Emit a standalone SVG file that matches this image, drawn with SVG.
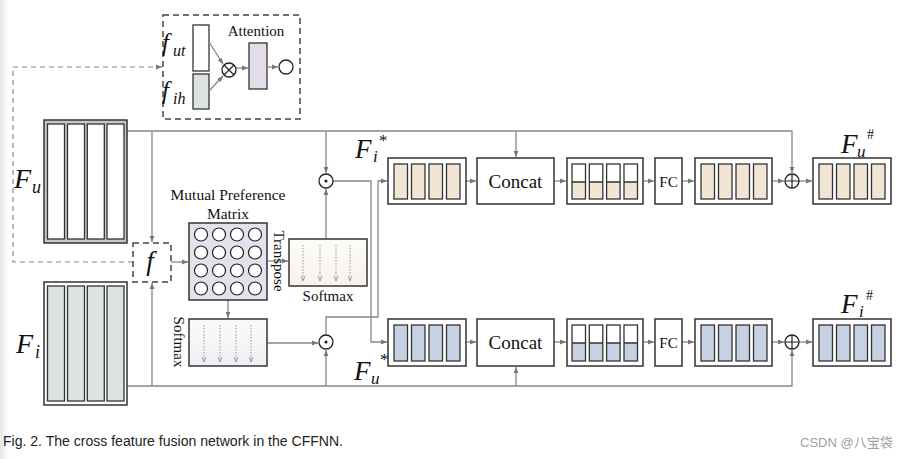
<svg xmlns="http://www.w3.org/2000/svg" width="915" height="459" viewBox="0 0 915 459">
<defs>
<linearGradient id="edge" x1="0" y1="0" x2="1" y2="0"><stop offset="0" stop-color="#e6e6e6"/><stop offset="1" stop-color="#ffffff"/></linearGradient>
<linearGradient id="smTop" x1="0" y1="0" x2="0" y2="1"><stop offset="0" stop-color="#fdfcfa"/><stop offset="1" stop-color="#f7f1e8"/></linearGradient>
<linearGradient id="smBot" x1="0" y1="0" x2="0" y2="1"><stop offset="0" stop-color="#fbfbfc"/><stop offset="1" stop-color="#eceff2"/></linearGradient>
<marker id="ah" viewBox="0 0 10 10" refX="10" refY="5" markerWidth="7" markerHeight="6" markerUnits="userSpaceOnUse" orient="auto"><path d="M0,1 L10,5 L0,9 z" fill="#777"/></marker>
<marker id="ahs" viewBox="0 0 10 10" refX="10" refY="5" markerWidth="5" markerHeight="5" markerUnits="userSpaceOnUse" orient="auto"><path d="M0,1 L10,5 L0,9" fill="none" stroke="#888" stroke-width="1.5"/></marker>
</defs>
<style>
.box{fill:#fff;stroke:#333;stroke-width:1.5}
.col{stroke:#333;stroke-width:1.3}
.beige{fill:#f3e5d3}
.blue{fill:#c6d1e3}
.white{fill:#fff}
.gray{fill:#dfe2e3}
.dash{fill:#fff;stroke:#444;stroke-width:1.5;stroke-dasharray:6,4}
.ln{fill:none;stroke:#888;stroke-width:1.3}
.lnd{fill:none;stroke:#888;stroke-width:1.2;stroke-dasharray:5,4}
.dot{fill:none;stroke:#999;stroke-width:1;stroke-dasharray:1.5,1.5}
.op{fill:#fff;stroke:#222;stroke-width:1.3}
.t{font-family:"Liberation Serif",serif;fill:#111}
.ti{font-family:"Liberation Serif",serif;font-style:italic;fill:#111}
.cap{font-family:"Liberation Sans",Arial,sans-serif;fill:#222}
</style>
<rect x="0" y="0" width="915" height="459" fill="#fff"/>
<rect x="0" y="0" width="9" height="459" fill="url(#edge)"/>

<g id="connectors">
<path class="lnd" d="M133,262 H13 V67 H162" marker-end="url(#ah)"/>
<path class="ln" d="M127,131 H792 V173" marker-end="url(#ah)"/>
<path class="ln" d="M152,131 V242" marker-end="url(#ah)"/>
<path class="ln" d="M326,131 V173" marker-end="url(#ah)"/>
<path class="ln" d="M516,131 V157" marker-end="url(#ah)"/>
<path class="ln" d="M127,386 H792 V350" marker-end="url(#ah)"/>
<path class="ln" d="M152,386 V283" marker-end="url(#ah)"/>
<path class="ln" d="M326,386 V350" marker-end="url(#ah)"/>
<path class="ln" d="M516,386 V367" marker-end="url(#ah)"/>
<path class="ln" d="M171,262 H188" marker-end="url(#ah)"/>
<path class="ln" d="M267,261 H288" marker-end="url(#ah)"/>
<path class="ln" d="M228,300 V318" marker-end="url(#ah)"/>
<path class="ln" d="M326,239 V189" marker-end="url(#ah)"/>
<path class="ln" d="M267,343 H318" marker-end="url(#ah)"/>
<path class="ln" d="M333,181 H371 V342 H387" marker-end="url(#ah)"/>
<path class="ln" d="M326,335 V317 H378 V181 H387" marker-end="url(#ah)"/>
<path class="ln" d="M466,181 H476" marker-end="url(#ah)"/>
<path class="ln" d="M554,181 H566" marker-end="url(#ah)"/>
<path class="ln" d="M643,181 H654" marker-end="url(#ah)"/>
<path class="ln" d="M682,181 H694" marker-end="url(#ah)"/>
<path class="ln" d="M772,181 H784" marker-end="url(#ah)"/>
<path class="ln" d="M799,181 H812" marker-end="url(#ah)"/>
<path class="ln" d="M466,342 H476" marker-end="url(#ah)"/>
<path class="ln" d="M554,342 H566" marker-end="url(#ah)"/>
<path class="ln" d="M643,342 H654" marker-end="url(#ah)"/>
<path class="ln" d="M682,342 H694" marker-end="url(#ah)"/>
<path class="ln" d="M772,342 H784" marker-end="url(#ah)"/>
<path class="ln" d="M799,342 H812" marker-end="url(#ah)"/>
</g>

<g id="attention">
<rect class="dash" x="163" y="15" width="137" height="104"/>
<rect x="193" y="25" width="16" height="46" fill="#fff" stroke="#333" stroke-width="1.3"/>
<rect x="193" y="74" width="16" height="35" fill="#dfe2e3" stroke="#333" stroke-width="1.3"/>
<rect x="249" y="43" width="18" height="46" fill="#e4dcea" stroke="#333" stroke-width="1.3"/>
<path class="ln" d="M209,42 L223,64" marker-end="url(#ah)"/>
<path class="ln" d="M209,91 L223,76" marker-end="url(#ah)"/>
<path class="ln" d="M236,68 H248" marker-end="url(#ah)"/>
<path class="ln" d="M267,67 H278" marker-end="url(#ah)"/>
<circle class="op" cx="229" cy="70" r="7"/>
<path d="M224,65 L234,75 M234,65 L224,75" stroke="#222" stroke-width="1.2"/>
<circle class="op" cx="286" cy="67" r="7"/>
<text class="t" x="256" y="36" font-size="15" text-anchor="middle">Attention</text>
<text class="ti" x="162" y="51" font-size="25">f</text>
<text class="ti" x="173" y="56" font-size="16">ut</text>
<text class="ti" x="162" y="99" font-size="25">f</text>
<text class="ti" x="173" y="104" font-size="16">ih</text>
</g>

<g id="Fu">
<rect x="44" y="120" width="83" height="123" fill="#c4c8c9" stroke="#333" stroke-width="1.5"/>
<rect class="col white" x="47.5" y="124" width="17" height="115"/>
<rect class="col white" x="67.5" y="124" width="17" height="115"/>
<rect class="col white" x="87.3" y="124" width="17" height="115"/>
<rect class="col white" x="107" y="124" width="17" height="115"/>
<text class="ti" x="14" y="188" font-size="28">F</text>
<text class="ti" x="32" y="193" font-size="18">u</text>
</g>

<g id="Fi">
<rect x="44" y="282" width="83" height="123" fill="#fff" stroke="#333" stroke-width="1.5"/>
<rect class="col gray" x="47.5" y="286" width="17" height="115"/>
<rect class="col gray" x="67.5" y="286" width="17" height="115"/>
<rect class="col gray" x="87.3" y="286" width="17" height="115"/>
<rect class="col gray" x="107" y="286" width="17" height="115"/>
<text class="ti" x="16" y="353" font-size="28">F</text>
<text class="ti" x="35" y="358" font-size="18">i</text>
</g>

<g id="f">
<rect class="dash" x="133" y="243" width="38" height="39"/>
<text class="ti" x="150" y="270" font-size="27" text-anchor="middle">f</text>
</g>

<g id="matrix">
<text class="t" x="228" y="200" font-size="15.5" text-anchor="middle">Mutual Preference</text>
<text class="t" x="228" y="219" font-size="15.5" text-anchor="middle">Matrix</text>
<rect x="189" y="223" width="78" height="77" fill="#e6e0ec" stroke="#333" stroke-width="1.5"/>
<g fill="#fff" stroke="#222" stroke-width="1.2">
<circle cx="201" cy="234.5" r="6.5"/><circle cx="219" cy="234.5" r="6.5"/><circle cx="237" cy="234.5" r="6.5"/><circle cx="255" cy="234.5" r="6.5"/>
<circle cx="201" cy="252.5" r="6.5"/><circle cx="219" cy="252.5" r="6.5"/><circle cx="237" cy="252.5" r="6.5"/><circle cx="255" cy="252.5" r="6.5"/>
<circle cx="201" cy="270.5" r="6.5"/><circle cx="219" cy="270.5" r="6.5"/><circle cx="237" cy="270.5" r="6.5"/><circle cx="255" cy="270.5" r="6.5"/>
<circle cx="201" cy="288.5" r="6.5"/><circle cx="219" cy="288.5" r="6.5"/><circle cx="237" cy="288.5" r="6.5"/><circle cx="255" cy="288.5" r="6.5"/>
</g>
<text class="t" font-size="15" text-anchor="middle" transform="translate(274,261) rotate(90)">Transpose</text>
</g>

<g id="softmaxTop">
<rect x="289" y="239" width="78" height="47" fill="url(#smTop)" stroke="#333" stroke-width="1.5"/>
<path class="dot" d="M303,245 V281" marker-end="url(#ahs)"/>
<path class="dot" d="M320,245 V281" marker-end="url(#ahs)"/>
<path class="dot" d="M336,245 V281" marker-end="url(#ahs)"/>
<path class="dot" d="M350,245 V281" marker-end="url(#ahs)"/>
<text class="t" x="328" y="301" font-size="15" text-anchor="middle">Softmax</text>
</g>

<g id="softmaxBot">
<rect x="189" y="319" width="78" height="47" fill="url(#smBot)" stroke="#333" stroke-width="1.5"/>
<path class="dot" d="M204,325 V362" marker-end="url(#ahs)"/>
<path class="dot" d="M220,325 V362" marker-end="url(#ahs)"/>
<path class="dot" d="M236,325 V362" marker-end="url(#ahs)"/>
<path class="dot" d="M251,325 V362" marker-end="url(#ahs)"/>
<text class="t" font-size="15" text-anchor="middle" transform="translate(174,342) rotate(90)">Softmax</text>
</g>

<g id="odotTop">
<circle class="op" cx="326" cy="181" r="7"/><circle cx="326" cy="181" r="1.6" fill="#222"/>
</g>
<g id="odotBot">
<circle class="op" cx="326" cy="342" r="7"/><circle cx="326" cy="342" r="1.6" fill="#222"/>
</g>

<g id="FiStar">
<rect class="box" x="388" y="158" width="78" height="46"/>
<rect class="col beige" x="394" y="164" width="13.5" height="35"/>
<rect class="col beige" x="411.5" y="164" width="13.5" height="35"/>
<rect class="col beige" x="429" y="164" width="13.5" height="35"/>
<rect class="col beige" x="446.5" y="164" width="13.5" height="35"/>
<text class="ti" x="355" y="158" font-size="27">F</text>
<text class="ti" x="373" y="162" font-size="17">i</text>
<text class="t" x="379" y="146" font-size="17">*</text>
</g>

<g id="FuStar">
<rect class="box" x="388" y="319" width="78" height="47"/>
<rect class="col blue" x="394" y="325" width="13.5" height="36"/>
<rect class="col blue" x="411.5" y="325" width="13.5" height="36"/>
<rect class="col blue" x="429" y="325" width="13.5" height="36"/>
<rect class="col blue" x="446.5" y="325" width="13.5" height="36"/>
<text class="ti" x="354" y="380" font-size="27">F</text>
<text class="ti" x="371" y="384" font-size="17">u</text>
<text class="t" x="380" y="365" font-size="17">*</text>
</g>

<g id="concatTop">
<rect class="box" x="477" y="158" width="77" height="46"/>
<text class="t" x="515.5" y="188" font-size="19" text-anchor="middle">Concat</text>
</g>
<g id="concatBot">
<rect class="box" x="477" y="319" width="77" height="47"/>
<text class="t" x="515.5" y="349" font-size="19" text-anchor="middle">Concat</text>
</g>

<g id="splitTop">
<rect class="box" x="567" y="158" width="76" height="46"/>
<rect class="beige" x="572" y="182" width="13.5" height="17"/><rect class="beige" x="589.3" y="182" width="13.5" height="17"/><rect class="beige" x="606.6" y="182" width="13.5" height="17"/><rect class="beige" x="624" y="182" width="13.5" height="17"/>
<g fill="none" stroke="#333" stroke-width="1.3">
<rect x="572" y="164" width="13.5" height="35"/><rect x="589.3" y="164" width="13.5" height="35"/><rect x="606.6" y="164" width="13.5" height="35"/><rect x="624" y="164" width="13.5" height="35"/>
<path d="M572,182 h13.5 M589.3,182 h13.5 M606.6,182 h13.5 M624,182 h13.5"/>
</g>
</g>
<g id="splitBot">
<rect class="box" x="567" y="319" width="76" height="47"/>
<rect class="blue" x="572" y="343" width="13.5" height="18"/><rect class="blue" x="589.3" y="343" width="13.5" height="18"/><rect class="blue" x="606.6" y="343" width="13.5" height="18"/><rect class="blue" x="624" y="343" width="13.5" height="18"/>
<g fill="none" stroke="#333" stroke-width="1.3">
<rect x="572" y="325" width="13.5" height="36"/><rect x="589.3" y="325" width="13.5" height="36"/><rect x="606.6" y="325" width="13.5" height="36"/><rect x="624" y="325" width="13.5" height="36"/>
<path d="M572,343 h13.5 M589.3,343 h13.5 M606.6,343 h13.5 M624,343 h13.5"/>
</g>
</g>

<g id="fcTop">
<rect class="box" x="655" y="158" width="27" height="46"/>
<text class="t" x="668.5" y="186.5" font-size="15" text-anchor="middle">FC</text>
</g>
<g id="fcBot">
<rect class="box" x="655" y="319" width="27" height="47"/>
<text class="t" x="668.5" y="347.5" font-size="15" text-anchor="middle">FC</text>
</g>

<g id="outTop">
<rect class="box" x="695" y="158" width="77" height="46"/>
<rect class="col beige" x="701" y="164" width="13.5" height="35"/>
<rect class="col beige" x="718.5" y="164" width="13.5" height="35"/>
<rect class="col beige" x="736" y="164" width="13.5" height="35"/>
<rect class="col beige" x="753.5" y="164" width="13.5" height="35"/>
</g>
<g id="outBot">
<rect class="box" x="695" y="319" width="77" height="47"/>
<rect class="col blue" x="701" y="325" width="13.5" height="36"/>
<rect class="col blue" x="718.5" y="325" width="13.5" height="36"/>
<rect class="col blue" x="736" y="325" width="13.5" height="36"/>
<rect class="col blue" x="753.5" y="325" width="13.5" height="36"/>
</g>

<g id="oplusTop">
<circle class="op" cx="792" cy="181" r="7"/><path d="M785,181 H799 M792,174 V188" stroke="#222" stroke-width="1.2"/>
</g>
<g id="oplusBot">
<circle class="op" cx="792" cy="342" r="7"/><path d="M785,342 H799 M792,335 V349" stroke="#222" stroke-width="1.2"/>
</g>

<g id="FuHash">
<rect class="box" x="813" y="158" width="78" height="46"/>
<rect class="col beige" x="819" y="164" width="13.5" height="35"/>
<rect class="col beige" x="836.5" y="164" width="13.5" height="35"/>
<rect class="col beige" x="854" y="164" width="13.5" height="35"/>
<rect class="col beige" x="871.5" y="164" width="13.5" height="35"/>
<text class="ti" x="841" y="153" font-size="27">F</text>
<text class="ti" x="857" y="157" font-size="17">u</text>
<text class="t" x="867" y="139" font-size="14">#</text>
</g>
<g id="FiHash">
<rect class="box" x="813" y="319" width="78" height="47"/>
<rect class="col blue" x="819" y="325" width="13.5" height="36"/>
<rect class="col blue" x="836.5" y="325" width="13.5" height="36"/>
<rect class="col blue" x="854" y="325" width="13.5" height="36"/>
<rect class="col blue" x="871.5" y="325" width="13.5" height="36"/>
<text class="ti" x="841" y="313" font-size="27">F</text>
<text class="ti" x="859" y="317" font-size="17">i</text>
<text class="t" x="866" y="300" font-size="14">#</text>
</g>

<text class="cap" x="3" y="446" font-size="14" textLength="340" lengthAdjust="spacingAndGlyphs">Fig. 2. The cross feature fusion network in the CFFNN.</text>
<text x="800" y="447" font-size="13" fill="#a0a0a0" font-family="'Liberation Sans','Noto Sans CJK SC',sans-serif">CSDN @八宝袋</text>
</svg>
